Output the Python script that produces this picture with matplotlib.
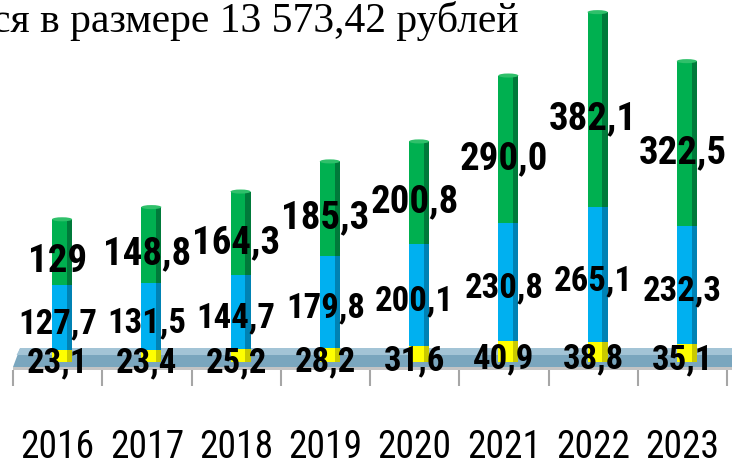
import matplotlib
matplotlib.use('Agg')
import matplotlib.pyplot as plt
from matplotlib import font_manager
from matplotlib.patches import Polygon, Ellipse
import matplotlib.transforms as mtransforms
import numpy as np

# данные
years = ['2016', '2017', '2018', '2019', '2020', '2021', '2022', '2023']
yellow = [23.1, 23.4, 25.2, 28.2, 31.6, 40.9, 38.8, 35.1]
blue = [127.7, 131.5, 144.7, 179.8, 200.1, 230.8, 265.1, 232.3]
green = [129, 148.8, 164.3, 185.3, 200.8, 290.0, 382.1, 322.5]
yellow_lbl = ['23,1', '23,4', '25,2', '28,2', '31,6', '40,9', '38,8', '35,1']
blue_lbl = ['127,7', '131,5', '144,7', '179,8', '200,1', '230,8', '265,1', '232,3']
green_lbl = ['129', '148,8', '164,3', '185,3', '200,8', '290,0', '382,1', '322,5']

installed = {f.name for f in font_manager.fontManager.ttflist}


def pick(*names):
    for n in names:
        if n in installed:
            return n
    return 'DejaVu Sans'


narrow = pick('Liberation Sans Narrow', 'Roboto Condensed', 'DejaVu Sans')
serif = pick('Liberation Serif', 'DejaVu Serif')

W, H = 732, 473
fig = plt.figure(figsize=(W / 100, H / 100), dpi=100)
base_px = 362
ax = fig.add_axes([13 / W, 1 - base_px / H, 714 / W, base_px / H])
ax.set_xlim(-0.5, 7.5)
ax.set_ylim(0, base_px / 0.51)
ax.axis('off')

x = np.arange(len(years))
xb = x + 0.05  # небольшой сдвиг столбиков (перспектива)
bw = 0.225
sw = 0.06

# "пол" диаграммы
blend = mtransforms.blended_transform_factory(ax.transData, ax.transAxes)
fy = lambda px: (base_px - px) / base_px
floor = Polygon([(-0.5, fy(367)), (-0.42, fy(348)), (8.2, fy(348)), (8.2, fy(367))],
                closed=True, transform=blend, facecolor='#7aa6be', edgecolor='none',
                clip_on=False, zorder=1)
ax.add_patch(floor)
top_face = Polygon([(-0.46, fy(355)), (-0.42, fy(348)), (8.2, fy(348)), (8.2, fy(355))],
                   closed=True, transform=blend, facecolor='#a3c4d6', edgecolor='none',
                   clip_on=False, zorder=1)
ax.add_patch(top_face)
ax.fill_between([-0.5, 8.2], fy(367), fy(370), transform=blend, color='#c4c4c4',
                lw=0, clip_on=False, zorder=1)
bounds = np.arange(len(years) + 1) - 0.5
ax.vlines(bounds, fy(370), fy(386), transform=blend, colors='#a6a6a6', lw=1.5,
          clip_on=False, zorder=1)

# столбики
segs = [(yellow, '#ffff00', '#c9c900'), (blue, '#00b0f0', '#0082b4'),
        (green, '#00b050', '#007a3a')]
bottom = np.zeros(len(years))
for vals, c, dc in segs:
    vals = np.array(vals)
    ax.bar(xb, vals, bw, bottom=bottom, color=c, lw=0, zorder=3)
    ax.bar(xb + bw / 2 - sw / 2, vals, sw, bottom=bottom, color=dc, lw=0, zorder=3)
    bottom = bottom + vals
# верхушки столбиков
for i in range(len(years)):
    ax.add_patch(Ellipse((xb[i], bottom[i]), bw, 8, facecolor='#2fc06a',
                         edgecolor='none', zorder=4))

# подписи значений
bottom = np.zeros(len(years))
for vals, lbls, off, fs in [(yellow, yellow_lbl, -7, 25), (blue, blue_lbl, -6, 25),
                            (green, green_lbl, -9, 28)]:
    vals = np.array(vals)
    for i in range(len(years)):
        ax.annotate(lbls[i], (x[i], bottom[i] + vals[i] / 2), xytext=(0, off * 0.72),
                    textcoords='offset points', ha='center', va='center',
                    annotation_clip=False, family=narrow, weight='bold', size=fs,
                    color='black', zorder=5)
    bottom = bottom + vals

# годы
for i, y in enumerate(years):
    fig.text((13 + (i + 0.5) * 89.25) / W, 1 - 447 / H, y, ha='center', va='center',
             family=narrow, size=27, color='black')

fig.text(-8 / W, 1 - 1 / H, 'ся в размере 13 573,42 рублей', ha='left', va='top',
         family=serif, size=30, color='black')

fig.savefig('out.png', dpi=100)
